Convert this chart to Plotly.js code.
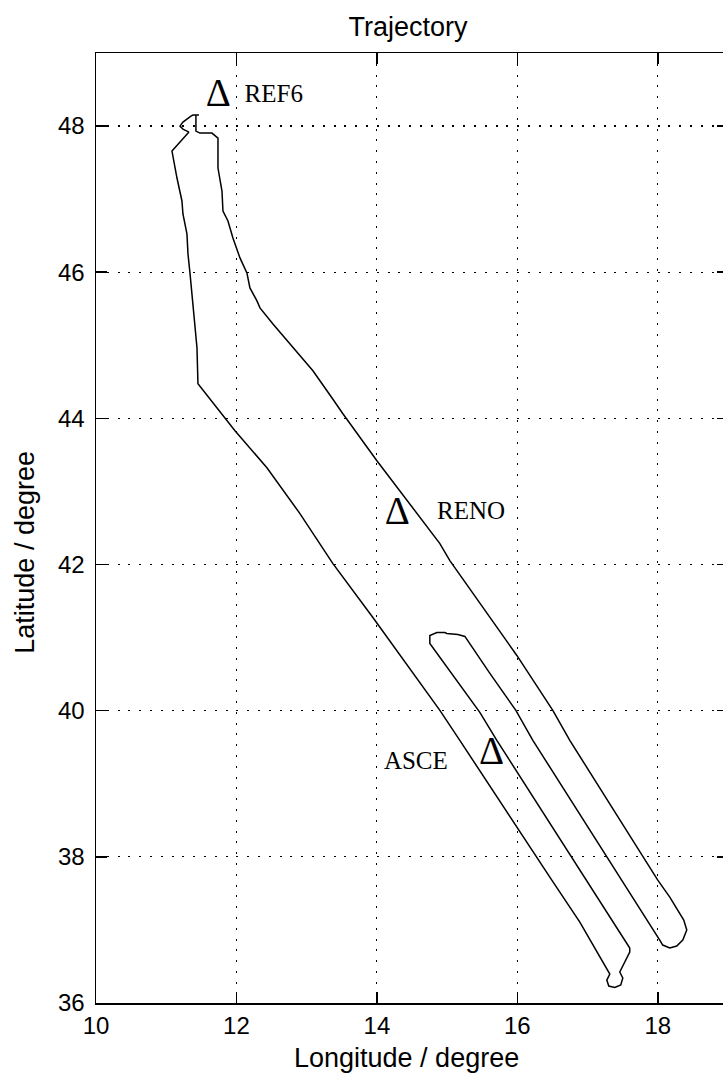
<!DOCTYPE html>
<html><head><meta charset="utf-8">
<script src="https://cdn.plot.ly/plotly-3.0.1.min.js"></script>
<style>html,body{margin:0;padding:0;overflow:hidden;background:#fff}#chart{width:728px;height:1079px}</style>
</head><body><div id="chart"></div>
<script>
// Flight trajectory (longitude / latitude in degrees)
const trackLon = [11.324, 11.238, 11.196, 11.238, 11.352, 11.381, 11.466, 11.423, 11.423, 11.480,
  11.651, 11.737, 11.737, 11.794, 11.808, 11.879, 11.950, 12.050, 12.149, 12.192,
  12.292, 12.335, 12.520, 12.804, 13.089, 13.359, 13.516, 14.000, 14.427, 14.897,
  15.039, 15.993, 16.505, 16.747, 18.000, 18.171, 18.370, 18.413, 18.356, 18.270,
  18.171, 18.071, 18.028, 17.488, 16.221, 15.979, 15.609, 15.253, 15.153, 14.996,
  14.968, 14.854, 14.754, 14.754, 14.897, 15.466, 15.708, 16.989, 17.132, 17.601,
  17.601, 17.459, 17.502, 17.473, 17.388, 17.302, 17.274, 17.317, 16.890, 16.648,
  16.491, 15.181, 14.897, 13.943, 13.374, 12.904, 12.434, 11.979, 11.637, 11.523,
  11.452, 11.438, 11.409, 11.367, 11.338, 11.310, 11.295, 11.238, 11.224, 11.153,
  11.096, 11.082, 11.324];
const trackLat = [47.918, 47.958, 47.999, 48.054, 48.136, 48.150, 48.150, 48.150, 47.931, 47.904,
  47.904, 47.835, 47.426, 47.111, 46.838, 46.701, 46.469, 46.196, 45.991, 45.786,
  45.608, 45.512, 45.293, 44.966, 44.651, 44.282, 44.063, 43.421, 42.874, 42.287,
  42.054, 40.756, 40.004, 39.594, 37.681, 37.449, 37.134, 36.998, 36.861, 36.779,
  36.752, 36.793, 36.861, 37.681, 39.594, 40.004, 40.510, 41.016, 41.043, 41.057,
  41.070, 41.070, 41.029, 40.920, 40.729, 39.977, 39.594, 37.681, 37.449, 36.752,
  36.697, 36.424, 36.342, 36.246, 36.212, 36.232, 36.314, 36.396, 37.107, 37.449,
  37.681, 39.594, 40.004, 41.275, 42.013, 42.697, 43.325, 43.831, 44.241, 44.378,
  44.473, 44.966, 45.293, 45.649, 45.991, 46.250, 46.524, 46.797, 46.975, 47.289,
  47.562, 47.658, 47.918];

// Reference stations
const siteNames = ['REF6', 'RENO', 'ASCE'];
const siteLon = [11.741, 14.292, 15.633];
const siteLat = [48.403, 42.687, 39.400];
const labelLon = [12.531, 15.342, 14.555];
const labelLat = [48.410, 42.715, 39.287];

const xTicks = [10, 12, 14, 16, 18];
const yTicks = [36, 38, 40, 42, 44, 46, 48];

const sans = '"Liberation Sans", Arial, Helvetica, sans-serif';
const serif = '"Liberation Serif", "Times New Roman", serif';

const traces = [
  {
    x: trackLon, y: trackLat, type: 'scatter', mode: 'lines',
    line: {color: '#000', width: 1.5}, hoverinfo: 'skip', showlegend: false
  },
  {
    x: siteLon, y: siteLat, type: 'scatter', mode: 'text',
    text: siteLon.map(() => 'Δ'), textposition: 'middle center',
    textfont: {family: serif, size: 39, color: '#000'},
    marker: {size: 1}, showlegend: false, hoverinfo: 'skip', cliponaxis: false
  },
  {
    x: labelLon, y: labelLat, type: 'scatter', mode: 'text',
    text: siteNames, textposition: 'middle center',
    textfont: {family: serif, size: 25, color: '#000'},
    marker: {size: 1}, showlegend: false, hoverinfo: 'skip', cliponaxis: false
  }
];

const axisCommon = {
  showline: true, linecolor: '#000', linewidth: 1.5, mirror: 'ticks',
  ticks: 'inside', ticklen: 11, tickwidth: 1.5, tickcolor: '#000',
  showgrid: true, gridcolor: '#000', gridwidth: 1.2, griddash: '2px,8.8px',
  zeroline: false, tickfont: {family: sans, size: 24, color: '#000'},
  tickmode: 'array', fixedrange: true
};

const layout = {
  width: 728, height: 1079,
  margin: {l: 96, r: 0, t: 53, b: 76},
  paper_bgcolor: '#fff', plot_bgcolor: '#fff',
  showlegend: false,
  title: {text: 'Trajectory', font: {family: sans, size: 27, color: '#000'},
          x: 408 / 728, xref: 'container', xanchor: 'center', y: 0.975, yref: 'container', yanchor: 'middle'},
  xaxis: Object.assign({}, axisCommon, {
    range: [10, 19], tickvals: xTicks, ticktext: xTicks.map(String),
    ticklabelstandoff: 1
  }),
  yaxis: Object.assign({}, axisCommon, {
    range: [36, 49], tickvals: yTicks, ticktext: yTicks.map(String),
    ticklabelstandoff: 5
  }),
  annotations: [
    {text: 'Longitude / degree', xref: 'paper', yref: 'paper', x: 0.492, y: -0.0575,
     xanchor: 'center', yanchor: 'middle', showarrow: false,
     font: {family: sans, size: 27, color: '#000'}},
    {text: 'Latitude / degree', xref: 'paper', yref: 'paper', x: (25 - 96) / 632, y: 0.474,
     xanchor: 'center', yanchor: 'middle', showarrow: false, textangle: -90,
     font: {family: sans, size: 27, color: '#000'}}
  ]
};

Plotly.newPlot('chart', traces, layout, {displayModeBar: false, staticPlot: true});
</script>
</body></html>
